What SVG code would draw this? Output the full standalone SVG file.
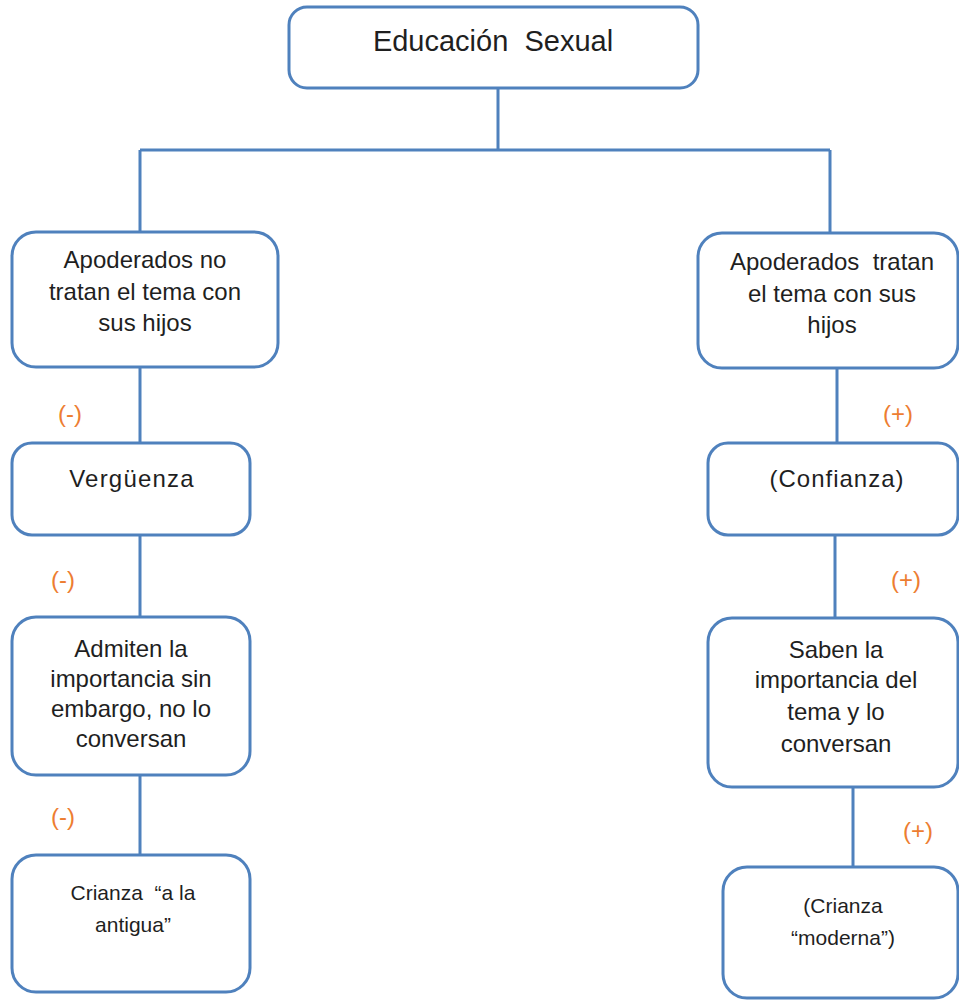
<svg xmlns="http://www.w3.org/2000/svg" width="959" height="1001" viewBox="0 0 959 1001">
<style>
.box{fill:#ffffff;stroke:#4F81BD;stroke-width:3}
.con{fill:none;stroke:#4F81BD;stroke-width:3}
.t{font-family:"Liberation Sans",Arial,sans-serif;font-size:24px;fill:#1f1f1f;text-anchor:middle}
.s{font-family:"Liberation Sans",Arial,sans-serif;font-size:21px;fill:#1f1f1f;text-anchor:middle}
.sign{font-family:"Liberation Sans",Arial,sans-serif;font-size:24px;fill:#ED7D31;text-anchor:middle}
</style>
<rect width="959" height="1001" fill="#ffffff"/>
<g id="connectors">
<path class="con" d="M498,88 V150 M140,150 H830 M140,150 V232 M830,150 V233 M140,367 V443 M140,535 V617 M140,775 V855 M837,368 V443 M835,535 V618 M853,787 V867"/>
</g>
<g id="n-title">
<rect class="box" x="289" y="7" width="409" height="81" rx="18"/>
<text class="t" x="493" y="51" style="font-size:29px" xml:space="preserve">Educación  Sexual</text>
</g>
<g id="n-l1">
<rect class="box" x="12" y="232" width="266" height="135" rx="24"/>
<text class="t" x="145" y="268">Apoderados no</text>
<text class="t" x="145" y="300">tratan el tema con</text>
<text class="t" x="145" y="331">sus hijos</text>
</g>
<g id="n-l2">
<rect class="box" x="12" y="443" width="238" height="92" rx="20"/>
<text class="t" x="132" y="487" letter-spacing="1.2">Vergüenza</text>
</g>
<g id="n-l3">
<rect class="box" x="12" y="617" width="238" height="158" rx="24"/>
<text class="t" x="131" y="657">Admiten la</text>
<text class="t" x="131" y="687">importancia sin</text>
<text class="t" x="131" y="717">embargo, no lo</text>
<text class="t" x="131" y="747">conversan</text>
</g>
<g id="n-l4">
<rect class="box" x="12" y="855" width="238" height="137" rx="24"/>
<text class="s" x="133" y="900" xml:space="preserve">Crianza  “a la</text>
<text class="s" x="133" y="932">antigua”</text>
</g>
<g id="n-r1">
<rect class="box" x="698" y="233" width="260" height="135" rx="24"/>
<text class="t" x="832" y="270" xml:space="preserve">Apoderados  tratan</text>
<text class="t" x="832" y="302">el tema con sus</text>
<text class="t" x="832" y="333">hijos</text>
</g>
<g id="n-r2">
<rect class="box" x="708" y="443" width="250" height="92" rx="20"/>
<text class="t" x="837" y="487" letter-spacing="1">(Confianza)</text>
</g>
<g id="n-r3">
<rect class="box" x="708" y="618" width="250" height="169" rx="24"/>
<text class="t" x="836" y="658">Saben la</text>
<text class="t" x="836" y="688">importancia del</text>
<text class="t" x="836" y="720">tema y lo</text>
<text class="t" x="836" y="752">conversan</text>
</g>
<g id="n-r4">
<rect class="box" x="723" y="867" width="235" height="131" rx="24"/>
<text class="s" x="843" y="913">(Crianza</text>
<text class="s" x="843" y="945">“moderna”)</text>
</g>
<g id="signs">
<text class="sign" x="70" y="422">(-)</text>
<text class="sign" x="63" y="588">(-)</text>
<text class="sign" x="63" y="825">(-)</text>
<text class="sign" x="898" y="422">(+)</text>
<text class="sign" x="906" y="588">(+)</text>
<text class="sign" x="918" y="839">(+)</text>
</g>
</svg>
